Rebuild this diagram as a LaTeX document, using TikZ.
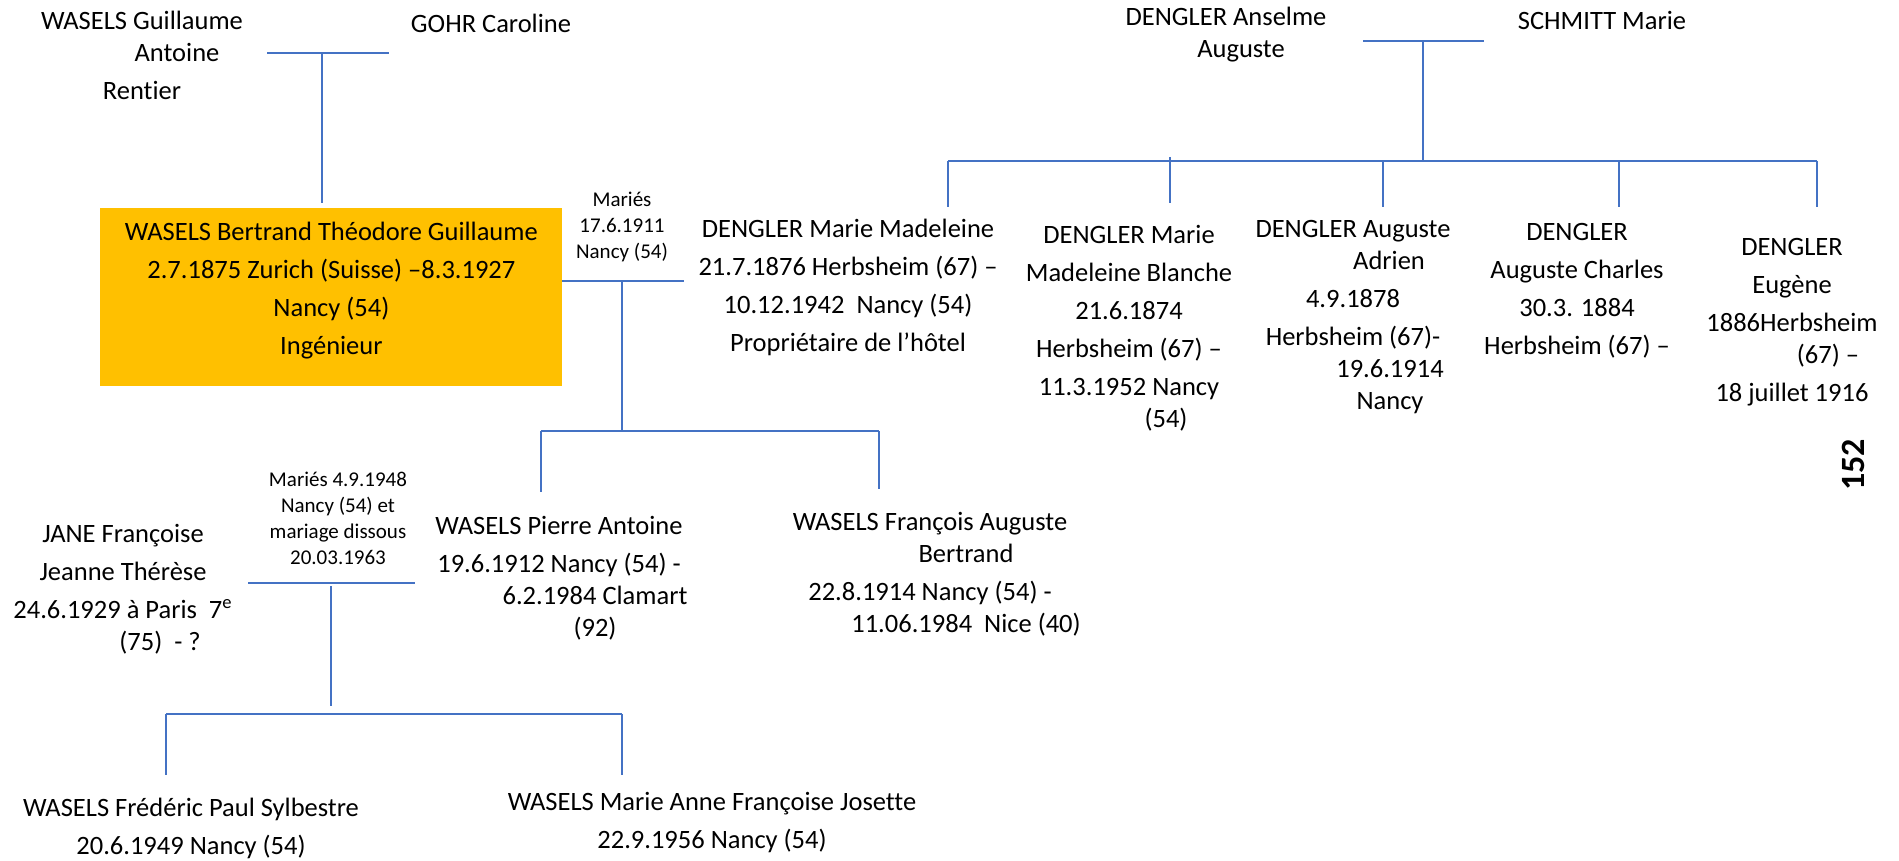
\documentclass[tikz,border=0pt]{standalone}
\usepackage{fontspec}
\setmainfont{Carlito}[Ligatures={TeX,NoCommon}]
\usetikzlibrary{positioning,calc}
\definecolor{LinkBlue}{RGB}{68,114,196}
\definecolor{HeadGold}{RGB}{255,192,0}
\tikzset{
	person/.style={anchor=north,inner sep=0pt,align=center,font=\fontsize{13.25}{16}\selectfont},
	wed/.style={anchor=north,inner sep=0pt,align=center,font=\fontsize{10.5}{13}\selectfont},
	head/.style={anchor=north west,fill=HeadGold,inner sep=0pt,minimum width=231pt,
		minimum height=89pt,align=center,font=\fontsize{13.25}{16}\selectfont},
	link/.style={draw=LinkBlue,line width=1.1pt},
}
\begin{document}
\begin{tikzpicture}[x=0.5pt,y=-0.5pt]
	\useasboundingbox (0,0) rectangle (1899,861);
	\coordinate (p1l) at (267,53);
	\coordinate (p1r) at (389,53);
	\coordinate (p1) at (322,53);
	\coordinate (p1d) at (322,203);
	\coordinate (m1l) at (562,281);
	\coordinate (m1r) at (684,281);
	\coordinate (m1) at (622,281);
	\coordinate (k1) at (622,431);
	\coordinate (k1l) at (541,431);
	\coordinate (k1r) at (879,431);
	\coordinate (c1) at (541,492);
	\coordinate (c2) at (879,489);
	\coordinate (p2l) at (1363,41);
	\coordinate (p2r) at (1484,41);
	\coordinate (p2) at (1423,41);
	\coordinate (k2) at (1423,161);
	\coordinate (k2l) at (948,161);
	\coordinate (k2r) at (1817,161);
	\coordinate (d1) at (948,207);
	\coordinate (d2t) at (1170,157);
	\coordinate (d2) at (1170,203);
	\coordinate (d3t) at (1383,161);
	\coordinate (d3) at (1383,207);
	\coordinate (d4t) at (1619,161);
	\coordinate (d4) at (1619,207);
	\coordinate (d5) at (1817,207);
	\coordinate (m2l) at (248,583);
	\coordinate (m2r) at (415,583);
	\coordinate (m2) at (331,586);
	\coordinate (k3) at (331,706);
	\coordinate (k3l) at (166,714);
	\coordinate (k3r) at (622,714);
	\coordinate (c3) at (166,775);
	\coordinate (c4) at (622,775);
	\foreach \x/\y in {p1l/p1r,p1/p1d,m1l/m1r,m1/k1,k1l/k1r,k1l/c1,k1r/c2,
		p2l/p2r,p2/k2,k2l/k2r,k2l/d1,d2t/d2,d3t/d3,d4t/d4,k2r/d5,
		m2l/m2r,m2/k3,k3l/k3r,k3l/c3,k3r/c4}
	\draw[link] (\x)--(\y);
	\node[person] (wg) at (142,7) {\strut WASELS Guillaume\\\hspace*{35pt}Antoine\\[3pt]Rentier};
	\node[person] (gc) at (491,10) {\strut GOHR Caroline};
	\node[person] (da) at (1226,3) {\strut DENGLER Anselme\\\hspace*{15pt}Auguste};
	\node[person] (sm) at (1602,7) {\strut SCHMITT Marie};
	\node[head] (wb) at (100,208) {\strut WASELS Bertrand Théodore Guillaume\\[3pt]2.7.1875 Zurich (Suisse) –8.3.1927\\[3pt]Nancy (54)\\[3pt]Ingénieur\rule[-11pt]{0pt}{1pt}};
	\node[wed] (w1) at (622,188) {\strut Mariés\\17.6.1911\\Nancy (54)};
	\node[person] (mm) at (848,215) {\strut DENGLER Marie Madeleine\\[3pt]21.7.1876 Herbsheim (67) –\\[3pt]10.12.1942~ Nancy (54)\\[3pt]Propriétaire de l’hôtel};
	\node[person] (mb) at (1129,221) {\strut DENGLER Marie\\[3pt]Madeleine Blanche\\[3pt]21.6.1874\\[3pt]Herbsheim (67) –\\[3pt]11.3.1952 Nancy\\\hspace*{37pt}(54)};
	\node[person] (aa) at (1353,215) {\strut DENGLER Auguste\\\hspace*{36pt}Adrien\\[3pt]4.9.1878\\[3pt]Herbsheim (67)-\\\hspace*{37pt}19.6.1914\\\hspace*{37pt}Nancy};
	\node[person] (ac) at (1577,218) {\strut DENGLER\\[3pt]Auguste Charles\\[3pt]30.3. 1884\\[3pt]Herbsheim (67) –};
	\node[person] (de) at (1792,233) {\strut DENGLER\\[3pt]Eugène\\[3pt]1886Herbsheim\\\hspace*{36pt}(67) –\\[3pt]18 juillet 1916};
	\node[font=\bfseries\fontsize{17}{20}\selectfont,rotate=90] (pg) at (1853,465) {152};
	\node[wed] (w2) at (338,468) {\strut Mariés 4.9.1948\\Nancy (54) et\\mariage dissous\\20.03.1963};
	\node[person] (jf) at (123,520) {\strut JANE Françoise\\[3pt]Jeanne Thérèse\\[3pt]24.6.1929 à Paris~ 7\textsuperscript{e}\\\hspace*{37pt}(75)~ - ?};
	\node[person] (pa) at (559,512) {\strut WASELS Pierre Antoine\\[3pt]19.6.1912 Nancy (54) -\\\hspace*{36pt}6.2.1984 Clamart\\\hspace*{36pt}(92)};
	\node[person] (fa) at (930,508) {\strut WASELS François Auguste\\\hspace*{36pt}Bertrand\\[3pt]22.8.1914 Nancy (54) -\\\hspace*{36pt}11.06.1984~ Nice (40)};
	\node[person] (fp) at (191,794) {\strut WASELS Frédéric Paul Sylbestre\\[3pt]20.6.1949 Nancy (54)};
	\node[person] (ma) at (712,788) {\strut WASELS Marie Anne Françoise Josette\\[3pt]22.9.1956 Nancy (54)};
\end{tikzpicture}
\end{document}
